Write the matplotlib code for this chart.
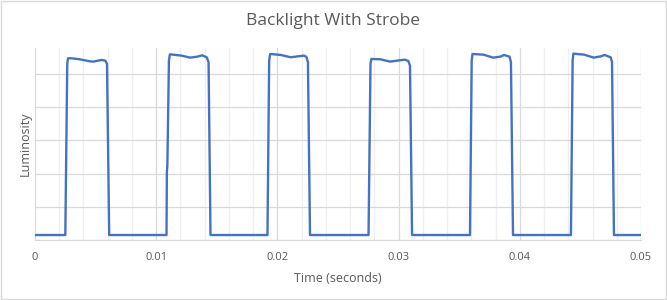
import matplotlib
matplotlib.use('Agg')
from matplotlib import pyplot as plt
from matplotlib.patches import Rectangle
from matplotlib.ticker import MultipleLocator

# measured trace: time (s) and relative luminosity
time_s = [
    0.0, 0.00250, 0.00266, 0.00272, 0.00300, 0.00370, 0.00450, 0.00480, 0.00550, 0.00580, 0.00594, 0.00612,
    0.01085, 0.01088, 0.01092, 0.01105, 0.01113, 0.01210, 0.01280, 0.01340, 0.01380, 0.01417, 0.01432, 0.01448,
    0.01918, 0.01932, 0.01940, 0.02030, 0.02110, 0.02170, 0.02220, 0.02240, 0.02252, 0.02269,
    0.02752, 0.02768, 0.02775, 0.02850, 0.02930, 0.02990, 0.03050, 0.03080, 0.03094, 0.03111,
    0.03589, 0.03603, 0.03610, 0.03700, 0.03780, 0.03840, 0.03870, 0.03915, 0.03927, 0.03944,
    0.04422, 0.04436, 0.04442, 0.04530, 0.04610, 0.04670, 0.04700, 0.04750, 0.04761, 0.04777,
    0.05,
]
luminosity = [
    0.15, 0.15, 5.30, 5.47, 5.47, 5.44, 5.38, 5.37, 5.42, 5.40, 5.30, 0.15,
    0.15, 2.05, 2.25, 5.40, 5.59, 5.55, 5.49, 5.52, 5.56, 5.50, 5.35, 0.15,
    0.15, 5.40, 5.60, 5.57, 5.50, 5.53, 5.55, 5.51, 5.35, 0.15,
    0.15, 5.30, 5.45, 5.44, 5.37, 5.40, 5.43, 5.39, 5.25, 0.15,
    0.15, 5.40, 5.60, 5.58, 5.49, 5.52, 5.57, 5.52, 5.35, 0.15,
    0.15, 5.40, 5.61, 5.58, 5.49, 5.53, 5.57, 5.50, 5.35, 0.15,
    0.15,
]
x_ticks = [0, 0.01, 0.02, 0.03, 0.04, 0.05]
x_tick_labels = ['0', '0.01', '0.02', '0.03', '0.04', '0.05']

plt.rcParams['font.family'] = ['Open Sans', 'DejaVu Sans']
text_color = '#595959'

fig = plt.figure(figsize=(6.67, 3.0), dpi=100)
ax = fig.add_axes([0.0525, 0.2, 0.9085, 0.64])

ax.plot(time_s, luminosity, color='#4472C4', linewidth=1.7, solid_joinstyle='round')

ax.set_xlim(0, 0.05)
ax.set_ylim(0, 5.78)
ax.set_xticks(x_ticks)
ax.set_xticklabels(x_tick_labels)
ax.xaxis.set_minor_locator(MultipleLocator(0.002))
ax.yaxis.set_major_locator(MultipleLocator(1))
ax.set_yticklabels([])

ax.grid(which='major', axis='both', color='#d9d9d9', linewidth=0.9)
ax.grid(which='minor', axis='x', color='#efefef', linewidth=0.9)
ax.set_axisbelow(True)

for side in ['top', 'right', 'left']:
    ax.spines[side].set_visible(False)
ax.spines['bottom'].set_color('#d9d9d9')
ax.tick_params(axis='both', which='both', length=0, colors=text_color, labelsize=8, pad=9)

ax.set_xlabel('Time (seconds)', fontsize=9, color=text_color, labelpad=6)
ax.set_ylabel('Luminosity', fontsize=9, color=text_color)
ax.yaxis.set_label_coords(-0.005, 0.5)
fig.text(0.5, 0.93, 'Backlight With Strobe', ha='center', va='center', fontsize=12.5, color=text_color)

fig.patches.append(Rectangle((0.002, 0.004), 0.996, 0.992, transform=fig.transFigure,
                             fill=False, edgecolor='#d9d9d9', linewidth=1))

fig.savefig('out.png', dpi=100)
plt.close(fig)
